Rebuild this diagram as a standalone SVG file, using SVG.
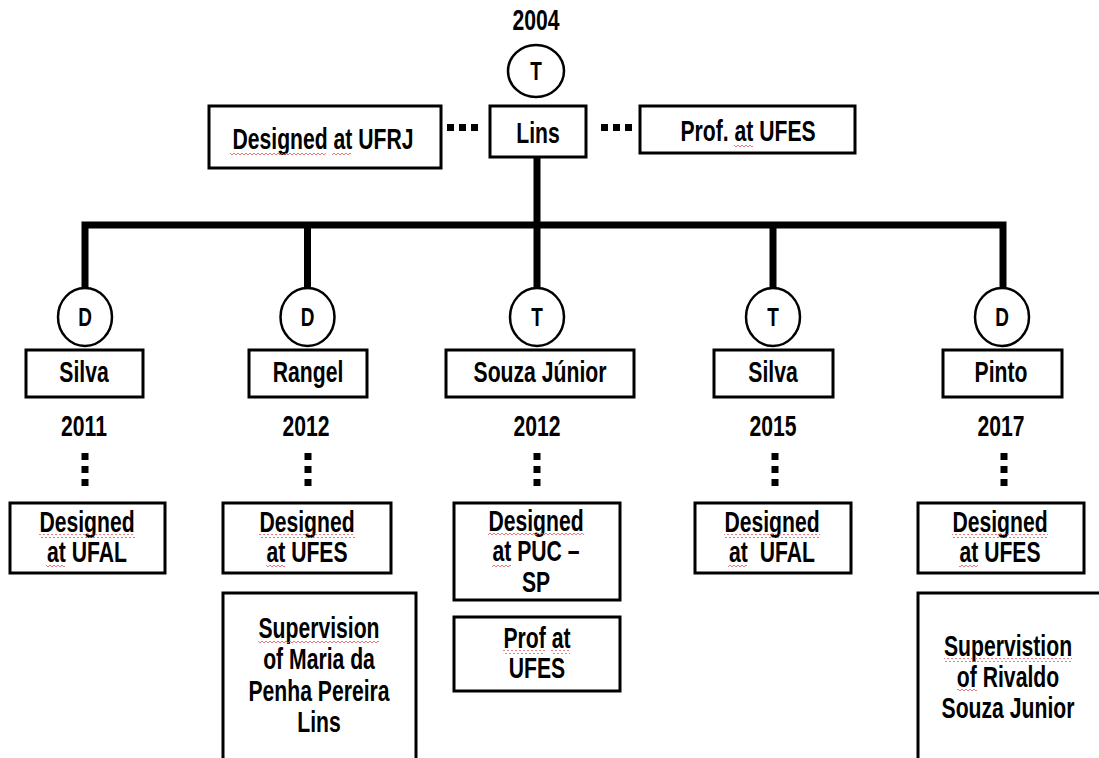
<svg xmlns="http://www.w3.org/2000/svg" width="1099" height="758" viewBox="0 0 1099 758">
<defs>
<style>
.bg{fill:#fff}
.box{fill:#fff;stroke:#000;stroke-width:3}
.open{fill:none;stroke:#000;stroke-width:3}
.circ{fill:#fff;stroke:#000;stroke-width:2.5}
.t{font-family:"Liberation Sans",Arial,sans-serif;font-weight:bold;font-size:29px;fill:#000;text-anchor:middle}
.c{font-size:26px}
.ln{fill:none;stroke:#000;stroke-width:7;stroke-linejoin:miter}
.dot{fill:#000}
.sq{fill:url(#squig)}
</style>
<pattern id="squig" x="0" y="0" width="4" height="4" patternUnits="userSpaceOnUse">
<path d="M0,3 L2,1 L4,3" fill="none" stroke="#e05a5a" stroke-width="0.8"/>
</pattern>
</defs>
<rect class="bg" x="0" y="0" width="1099" height="758"/>

<g id="connectors">
<path class="ln" d="M85,289 V225 H1003 V289"/>
<path class="ln" d="M537,157 V289"/>
<path class="ln" d="M307.5,225 V289"/>
<path class="ln" d="M773,225 V289"/>
<rect class="dot" x="447" y="124" width="7" height="7"/>
<rect class="dot" x="459" y="124" width="7" height="7"/>
<rect class="dot" x="471" y="124" width="7" height="7"/>
<rect class="dot" x="601" y="124" width="7" height="7"/>
<rect class="dot" x="613" y="124" width="7" height="7"/>
<rect class="dot" x="625" y="124" width="7" height="7"/>
<rect class="dot" x="81.5" y="453" width="7" height="7"/>
<rect class="dot" x="81.5" y="466" width="7" height="7"/>
<rect class="dot" x="81.5" y="479" width="7" height="7"/>
<rect class="dot" x="304.5" y="453" width="7" height="7"/>
<rect class="dot" x="304.5" y="466" width="7" height="7"/>
<rect class="dot" x="304.5" y="479" width="7" height="7"/>
<rect class="dot" x="533.5" y="453" width="7" height="7"/>
<rect class="dot" x="533.5" y="466" width="7" height="7"/>
<rect class="dot" x="533.5" y="479" width="7" height="7"/>
<rect class="dot" x="771.5" y="453" width="7" height="7"/>
<rect class="dot" x="771.5" y="466" width="7" height="7"/>
<rect class="dot" x="771.5" y="479" width="7" height="7"/>
<rect class="dot" x="1000.5" y="453" width="7" height="7"/>
<rect class="dot" x="1000.5" y="466" width="7" height="7"/>
<rect class="dot" x="1000.5" y="479" width="7" height="7"/>
</g>

<g id="lins">
<text class="t" transform="translate(536,30) scale(0.73,1)">2004</text>
<ellipse class="circ" cx="536" cy="71" rx="28" ry="26"/>
<text class="t c" transform="translate(536,80) scale(0.73,1)">T</text>
<rect class="box" x="490" y="106" width="96" height="51"/>
<text class="t" transform="translate(538,143) scale(0.73,1)">Lins</text>
</g>

<g id="designed-ufrj">
<rect class="box" x="209" y="106" width="232" height="62"/>
<text class="t" transform="translate(323,149) scale(0.73,1)">Designed at UFRJ</text>
</g>

<g id="prof-ufes">
<rect class="box" x="640" y="106" width="215" height="47"/>
<text class="t" transform="translate(748,141) scale(0.73,1)">Prof. at UFES</text>
</g>

<g id="silva-2011">
<ellipse class="circ" cx="85" cy="317" rx="27" ry="29"/>
<text class="t c" transform="translate(85,326) scale(0.73,1)">D</text>
<rect class="box" x="26" y="350" width="117" height="47"/>
<text class="t" transform="translate(84,382) scale(0.73,1)">Silva</text>
<text class="t" transform="translate(84,436) scale(0.73,1)">2011</text>
</g>

<g id="rangel-2012">
<ellipse class="circ" cx="307.5" cy="317" rx="27" ry="29"/>
<text class="t c" transform="translate(307.5,326) scale(0.73,1)">D</text>
<rect class="box" x="249" y="350" width="118" height="47"/>
<text class="t" transform="translate(308,382) scale(0.73,1)">Rangel</text>
<text class="t" transform="translate(306,436) scale(0.73,1)">2012</text>
</g>

<g id="souza-2012">
<ellipse class="circ" cx="537" cy="317" rx="27" ry="29"/>
<text class="t c" transform="translate(537,326) scale(0.73,1)">T</text>
<rect class="box" x="446" y="350" width="188" height="47"/>
<text class="t" transform="translate(540,382) scale(0.73,1)">Souza Júnior</text>
<text class="t" transform="translate(537,436) scale(0.73,1)">2012</text>
</g>

<g id="silva-2015">
<ellipse class="circ" cx="773" cy="317" rx="27" ry="29"/>
<text class="t c" transform="translate(773,326) scale(0.73,1)">T</text>
<rect class="box" x="714" y="350" width="119" height="47"/>
<text class="t" transform="translate(773,382) scale(0.73,1)">Silva</text>
<text class="t" transform="translate(773,436) scale(0.73,1)">2015</text>
</g>

<g id="pinto-2017">
<ellipse class="circ" cx="1002" cy="317" rx="27" ry="29"/>
<text class="t c" transform="translate(1002,326) scale(0.73,1)">D</text>
<rect class="box" x="943" y="350" width="119" height="47"/>
<text class="t" transform="translate(1001,382) scale(0.73,1)">Pinto</text>
<text class="t" transform="translate(1001,436) scale(0.73,1)">2017</text>
</g>

<g id="silva-designed-ufal">
<rect class="box" x="10" y="503" width="155" height="70"/>
<text class="t" transform="translate(87,532) scale(0.73,1)"><tspan x="0">Designed</tspan><tspan x="0" dy="30">at UFAL</tspan></text>
</g>

<g id="rangel-designed-ufes">
<rect class="box" x="223" y="503" width="168" height="70"/>
<text class="t" transform="translate(307,532) scale(0.73,1)"><tspan x="0">Designed</tspan><tspan x="0" dy="30">at UFES</tspan></text>
</g>

<g id="rangel-supervision">
<path class="open" d="M223,800 V593 H416 V800"/>
<text class="t" transform="translate(319,638) scale(0.73,1)"><tspan x="0">Supervision</tspan><tspan x="0" dy="31.5">of Maria da</tspan><tspan x="0" dy="31.5">Penha Pereira</tspan><tspan x="0" dy="31.5">Lins</tspan></text>
</g>

<g id="souza-designed-puc">
<rect class="box" x="454" y="503" width="166" height="97"/>
<text class="t" transform="translate(536,531) scale(0.73,1)"><tspan x="0">Designed</tspan><tspan x="0" dy="30.5">at PUC –</tspan><tspan x="0" dy="30.5">SP</tspan></text>
</g>

<g id="souza-prof-ufes">
<rect class="box" x="454" y="617" width="166" height="74"/>
<text class="t" transform="translate(537,648) scale(0.73,1)"><tspan x="0">Prof at</tspan><tspan x="0" dy="30">UFES</tspan></text>
</g>

<g id="silva-designed-ufal-2">
<rect class="box" x="695" y="503" width="156" height="70"/>
<text class="t" transform="translate(772,532) scale(0.73,1)"><tspan x="0">Designed</tspan><tspan x="0" dy="30">at&#160; UFAL</tspan></text>
</g>

<g id="pinto-designed-ufes">
<rect class="box" x="918" y="503" width="166" height="70"/>
<text class="t" transform="translate(1000,532) scale(0.73,1)"><tspan x="0">Designed</tspan><tspan x="0" dy="30">at UFES</tspan></text>
</g>

<g id="pinto-supervision">
<path class="open" d="M918,800 V593 H1110"/>
<text class="t" transform="translate(1008,656) scale(0.73,1)"><tspan x="0">Supervistion</tspan><tspan x="0" dy="31">of Rivaldo</tspan><tspan x="0" dy="31">Souza Junior</tspan></text>
</g>

<g id="spellcheck-marks">
<rect class="sq" x="230" y="151" width="96" height="4"/>
<rect class="sq" x="332" y="151" width="19" height="4"/>
<rect class="sq" x="734" y="143" width="19" height="4"/>
<rect class="sq" x="39" y="534" width="96" height="4"/>
<rect class="sq" x="46" y="564" width="19" height="4"/>
<rect class="sq" x="259" y="534" width="96" height="4"/>
<rect class="sq" x="266" y="564" width="19" height="4"/>
<rect class="sq" x="488" y="533" width="96" height="4"/>
<rect class="sq" x="492" y="564" width="19" height="4"/>
<rect class="sq" x="503" y="650" width="42" height="4"/>
<rect class="sq" x="551" y="650" width="19" height="4"/>
<rect class="sq" x="724" y="534" width="96" height="4"/>
<rect class="sq" x="728" y="564" width="19" height="4"/>
<rect class="sq" x="952" y="534" width="96" height="4"/>
<rect class="sq" x="959" y="564" width="19" height="4"/>
<rect class="sq" x="258" y="640" width="121" height="4"/>
<rect class="sq" x="944" y="658" width="128" height="4"/>
<rect class="sq" x="957" y="689" width="20" height="4"/>
</g>
</svg>
